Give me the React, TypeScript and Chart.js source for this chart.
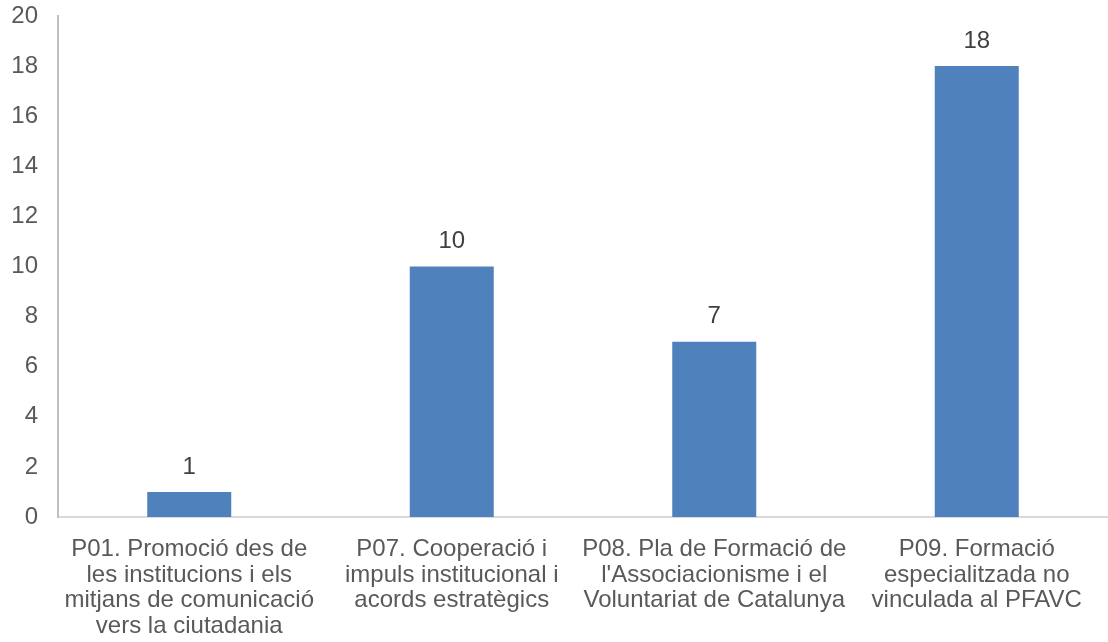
import React, { useEffect, useRef } from "react";
import { Chart, registerables } from "chart.js";

Chart.register(...registerables);

const categories: string[][] = [
  ["P01. Promoció des de", "les institucions i els", "mitjans de comunicació", "vers la ciutadania"],
  ["P07. Cooperació i", "impuls institucional i", "acords estratègics"],
  ["P08. Pla de Formació de", "l'Associacionisme i el", "Voluntariat de Catalunya"],
  ["P09. Formació", "especialitzada no", "vinculada al PFAVC"],
];
const values: number[] = [1, 10, 7, 18];

const FONT = "'Liberation Sans', Arial, sans-serif";
const TEXT = "#595959";

const valueLabels = {
  id: "valueLabels",
  afterDatasetsDraw(chart: any) {
    const ctx = chart.ctx;
    const meta = chart.getDatasetMeta(0);
    ctx.save();
    ctx.font = `24px ${FONT}`;
    ctx.fillStyle = "#404040";
    ctx.textAlign = "center";
    ctx.textBaseline = "middle";
    meta.data.forEach((bar: any, i: number) => {
      ctx.fillText(String(values[i]), bar.x, bar.y - 25);
    });
    ctx.restore();
  },
};

export default function App() {
  const ref = useRef<HTMLCanvasElement>(null);
  useEffect(() => {
    if (!ref.current) return;
    const chart = new Chart(ref.current, {
      type: "bar",
      data: {
        labels: categories,
        datasets: [
          {
            data: values,
            backgroundColor: "#4F81BD",
            categoryPercentage: 1,
            barPercentage: 0.32,
          },
        ],
      },
      options: {
        animation: false,
        responsive: false,
        maintainAspectRatio: false,
        layout: { padding: { top: 16, left: 0, right: 0, bottom: 0 } },
        plugins: { legend: { display: false }, tooltip: { enabled: false } },
        scales: {
          x: {
            grid: { display: false, drawTicks: false },
            border: { display: true, color: "#D9D9D9", width: 2 },
            ticks: {
              color: TEXT,
              font: { family: FONT, size: 24, lineHeight: 1.06 },
              padding: 20,
              maxRotation: 0,
              autoSkip: false,
            },
            afterFit: (s: any) => {
              s.height = 125;
              s.paddingLeft = 0;
              s.paddingRight = 0;
              s.paddingTop = 0;
              s.paddingBottom = 0;
            },
          },
          y: {
            min: 0,
            max: 20,
            grid: { display: false, drawTicks: false },
            border: { display: true, color: "#BFBFBF", width: 2 },
            ticks: {
              stepSize: 2,
              color: TEXT,
              font: { family: FONT, size: 24 },
              padding: 20,
            },
            afterFit: (s: any) => {
              s.width = 58;
              s.paddingTop = 0;
              s.paddingBottom = 0;
              s.paddingLeft = 0;
              s.paddingRight = 0;
            },
          },
        },
      },
      plugins: [valueLabels],
    });
    return () => chart.destroy();
  }, []);
  return (
    <div style={{ position: "fixed", left: 0, top: 0, width: 1108, height: 642, background: "#fff" }}>
      <canvas ref={ref} width={1108} height={642} style={{ width: 1108, height: 642 }} />
    </div>
  );
}
